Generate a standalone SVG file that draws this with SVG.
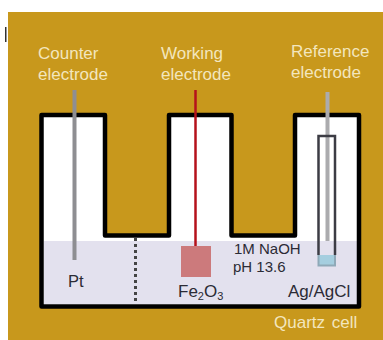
<svg xmlns="http://www.w3.org/2000/svg" width="383" height="340" viewBox="0 0 383 340">
<style>
text{font-family:"Liberation Sans",Arial,sans-serif;font-size:17px}
.l{fill:#F3E6BE}
.d{fill:#2b2b35}
.s{font-size:15px}
</style>
<rect width="383" height="340" fill="#fff"/>
<rect x="8" y="12" width="375" height="328" fill="#C8981C"/>
<rect x="5" y="27" width="1.500" height="15" fill="#333"/>
<g id="cell">
<path d="M41.500 115H105V235.500H169V115H231.500V235.500H295V115H359V306.500H41.500Z" fill="#fff"/>
<path d="M44 241H357V304H44Z" fill="#E3E1EE"/>
<path d="M41.500 115H105V235.500H169V115H231.500V235.500H295V115H359V306.500H41.500Z" fill="none" stroke="#000" stroke-width="4.500" stroke-linejoin="round"/>
<line x1="135.500" y1="238" x2="135.500" y2="303" stroke="#444" stroke-width="3" stroke-dasharray="3 3"/>
</g>
<g id="counter">
<line x1="74.500" y1="90" x2="74.500" y2="260" stroke="#8E8E92" stroke-width="4"/>
<text class="l" x="38" y="59">Counter</text>
<text class="l" x="38" y="80">electrode</text>
<text class="d" x="68" y="287" style="font-size:16.500px">Pt</text>
</g>
<g id="working">
<rect x="181" y="246" width="30" height="31" fill="#CC7A7C"/>
<line x1="195.500" y1="90" x2="195.500" y2="246" stroke="#B5121B" stroke-width="2.500"/>
<text class="l" x="161" y="59">Working</text>
<text class="l" x="161" y="80">electrode</text>
<text class="d" x="178" y="297">Fe<tspan dy="3" style="font-size:11px">2</tspan><tspan dy="-3">O</tspan><tspan dy="3" style="font-size:11px">3</tspan></text>
</g>
<g id="reference">
<rect x="318" y="255" width="17" height="11" fill="#A5CEDF"/>
<line x1="327.500" y1="92" x2="327.500" y2="241" stroke="#ABABAE" stroke-width="4"/>
<path d="M318.500 255V136H335V255" fill="none" stroke="#3c3c44" stroke-width="2.500"/>
<path d="M318.500 255V265.500H335V255" fill="none" stroke="#8FA9B8" stroke-width="2"/>
<text class="l" x="291" y="57">Reference</text>
<text class="l" x="291" y="78">electrode</text>
<text class="d" x="288" y="296.500">Ag/AgCl</text>
</g>
<g id="electrolyte">
<text class="d s" x="234" y="254">1M NaOH</text>
<text class="d s" x="233" y="272">pH 13.6</text>
</g>
<text class="l" x="274" y="327.500" style="word-spacing:2px">Quartz cell</text>
</svg>
